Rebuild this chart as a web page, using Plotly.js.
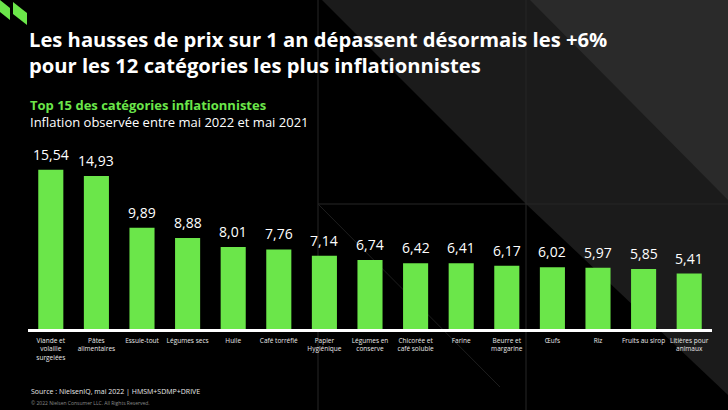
<!DOCTYPE html>
<html>
<head>
<meta charset="utf-8">
<script src="https://cdn.plot.ly/plotly-3.0.1.min.js"></script>
<style>html,body{margin:0;padding:0;background:#000;}#chart{width:728px;height:410px;}</style>
</head>
<body>
<div id="chart"></div>
<script>
const categories = ["Viande et<br>volaille<br>surgelées","Pâtes<br>alimentaires","Essuie-tout","Légumes secs","Huile","Café torréfié","Papier<br>Hygiénique","Légumes en<br>conserve","Chicorée et<br>café soluble","Farine","Beurre et<br>margarine","Œufs","Riz","Fruits au sirop","Litières pour<br>animaux"];
const inflation = [15.54,14.93,9.89,8.88,8.01,7.76,7.14,6.74,6.42,6.41,6.17,6.02,5.97,5.85,5.41];
const titleLines = ["Les hausses de prix sur 1 an dépassent désormais les +6%","pour les 12 catégories les plus inflationnistes"];
const subtitle = "Top 15 des catégories inflationnistes";
const subtitle2 = "Inflation observée entre mai 2022 et mai 2021";
const sourceText = "Source : NielsenIQ, mai 2022 | HMSM+SDMP+DRIVE";
const copyText = "© 2022 Nielsen Consumer LLC. All Rights Reserved.";

const W = 728, H = 410, L = 28, R = 16, T = 140, B = 81;
const pw = W - L - R, ph = H - T - B;
const X = p => (p - L) / pw;
const Y = p => (H - B - p) / ph;
const FONT = "Open Sans, sans-serif";
const GREEN = "#6be64a";

function poly(pts, fill) {
  return {type:'path', xref:'paper', yref:'paper', layer:'below', line:{width:0}, fillcolor:fill,
    path: 'M' + pts.map(p => X(p[0]).toFixed(5) + ',' + Y(p[1]).toFixed(5)).join(' L') + ' Z'};
}
function seg(x0,y0,x1,y1,c) {
  return {type:'line', xref:'paper', yref:'paper', layer:'below', x0:X(x0), y0:Y(y0), x1:X(x1), y1:Y(y1), line:{color:c, width:1}};
}

const shapes = [
  poly([[322,0],[728,0],[728,204],[526,204]], '#1b1b1b'),
  poly([[530,0],[728,0],[728,200]], '#2a2a2a'),
  poly([[526,204],[728,204],[728,395]], '#1b1b1b'),
  seg(318,0,318,410,'#262626'),
  seg(526,0,526,410,'#262626'),
  seg(318,204,728,204,'#262626'),
  seg(318,204,500,387,'#1e1e1e'),
  poly([[0,0],[10,8],[10,20],[0,12]], GREEN),
  poly([[13,2],[27,13],[27,25],[13,14]], GREEN)
];

function ann(text, x, y, size, color, bold) {
  return {text: bold ? '<b>'+text+'</b>' : text, xref:'paper', yref:'paper', x:X(x), y:Y(y),
    xanchor:'left', yanchor:'middle', align:'left', showarrow:false, font:{family:FONT, size:size, color:color}};
}

const annotations = [
  ann(titleLines.join('<br>'), 27, 52, 20.2, '#ffffff', true),
  ann('<b><span style="color:'+GREEN+'">'+subtitle+'</span></b><br>'+subtitle2, 28, 113, 13, '#ffffff', false),
  ann(sourceText, 29, 391, 7, '#e8e8e8', false),
  ann(copyText, 29, 403, 5, '#8a8a8a', false)
];
inflation.forEach((v, i) => {
  annotations.push({xref:'x', yref:'y', x:categories[i], y:v, yanchor:'bottom', xanchor:'center',
    yshift:4, showarrow:false, text: v.toFixed(2).replace('.', ','),
    font:{family:FONT, size:14, color:'#ffffff'}});
});

const data = [{
  type:'bar', x:categories, y:inflation,
  marker:{color:GREEN, line:{width:0}}, hoverinfo:'none'
}];

const layout = {
  width:W, height:H, margin:{l:L, r:R, t:T, b:B, pad:0},
  paper_bgcolor:'#000', plot_bgcolor:'rgba(0,0,0,0)',
  separators:', ', bargap:0.45, showlegend:false,
  xaxis:{type:'category', showgrid:false, zeroline:false, showline:true, linecolor:'#ffffff', linewidth:3,
    ticks:'', tickangle:0, tickfont:{family:FONT, size:6.5, color:'#e8e8e8'}, ticklabelstandoff:3, fixedrange:true},
  yaxis:{range:[0,18.44], visible:false, showgrid:false, zeroline:false, fixedrange:true},
  shapes:shapes, annotations:annotations
};

Plotly.newPlot('chart', data, layout, {staticPlot:true, displayModeBar:false});
</script>
</body>
</html>
